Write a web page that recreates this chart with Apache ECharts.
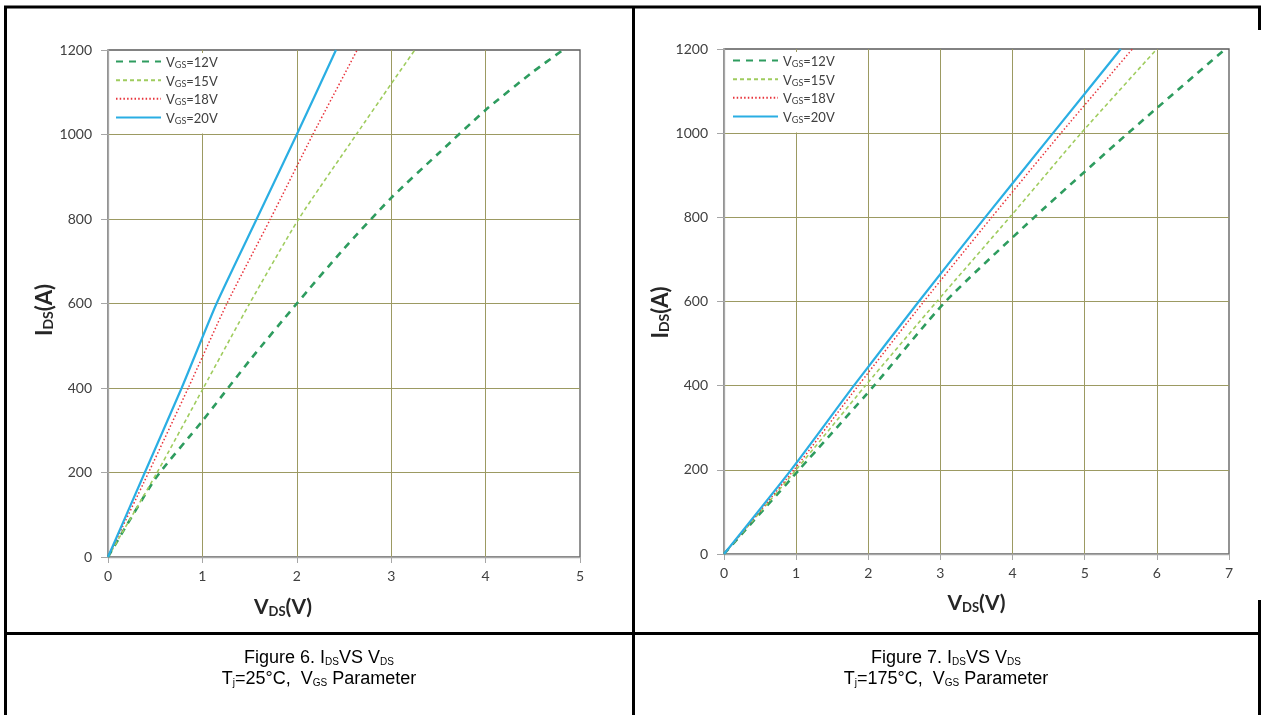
<!DOCTYPE html>
<html>
<head>
<meta charset="utf-8">
<script src="https://cdn.jsdelivr.net/npm/echarts@6/dist/echarts.min.js"></script>
<style>
html,body{margin:0;padding:0;background:#fff;}
#c{width:1263px;height:715px;}
</style>
</head>
<body>
<div id="c"></div>
<script>
// ---- Data (V_DS in volts, I_DS in amperes) ----
// Figure 6: Tj = 25 °C
const t25_vgs12 = [[0,0],[0.5,185],[1.0,322],[1.5,465],[2.0,600],[2.5,730],[3.0,850],[3.5,955],[4.0,1058],[4.5,1148],[4.82,1200]];
const t25_vgs15 = [[0,0],[0.52,200],[1.01,400],[1.5,600],[2.02,800],[2.63,1000],[3.0,1120],[3.25,1200]];
const t25_vgs18 = [[0,0],[0.43,200],[0.85,400],[1.26,600],[1.72,800],[2.17,1000],[2.64,1200]];
const t25_vgs20 = [[0,0],[0.39,200],[0.78,400],[1.15,600],[1.575,800],[2.0,1000],[2.415,1200]];
// Figure 7: Tj = 175 °C
const t175_vgs12 = [[0,0],[1.04,200],[2.08,400],[3.07,600],[4.3,800],[5.6,1000],[6.95,1200]];
const t175_vgs15 = [[0,0],[1.0,200],[1.96,400],[2.95,600],[3.96,800],[4.95,1000],[6.0,1200]];
const t175_vgs18 = [[0,0],[0.97,200],[1.86,400],[2.77,600],[3.71,800],[4.67,1000],[5.66,1200]];
const t175_vgs20 = [[0,0],[0.93,200],[1.8,400],[2.7,600],[3.62,800],[4.56,1000],[5.5,1200]];

const seriesNames = ['VGS=12V','VGS=15V','VGS=18V','VGS=20V'];
const xMax25 = 5, xMax175 = 7, yMax = 1200, yStep = 200;

const captionLeft1 = '{n|Figure 6. I}{s|DS}{n|VS V}{s|DS}';
const captionLeft2 = '{n|T}{s|j}{n|=25°C,  V}{s|GS}{n| Parameter}';
const captionRight1 = '{n|Figure 7. I}{s|DS}{n|VS V}{s|DS}';
const captionRight2 = '{n|T}{s|j}{n|=175°C,  V}{s|GS}{n| Parameter}';

// ---- Styles ----
const styles = [
  {color:'#2e9c5f', width:2.6, type:[7,6]},
  {color:'#9fcc5e', width:1.6, type:[4,3]},
  {color:'#e8333b', width:1.5, type:[1.5,2.2]},
  {color:'#2aaee3', width:2.2, type:'solid'}
];
const labelFont = 'Lato';
const gridColor = '#9c9a62';
const axisGrey = '#a6a6a6';

function makeXAxis(idx, max){
  return {
    gridIndex: idx, type:'value', min:0, max:max, interval:1, z:2,
    axisLine:{show:true, lineStyle:{color:axisGrey, width:1.3}},
    axisTick:{show:true, length:6, lineStyle:{color:axisGrey}},
    axisLabel:{color:'#404040', fontSize:14, fontFamily:labelFont, margin:12, formatter:(v)=>String(v)},
    splitLine:{show:true, showMinLine:false, showMaxLine:false, lineStyle:{color:gridColor, width:1}},
    name:'{b|V}{s|DS}{b|(V)}', nameLocation:'middle',
    nameGap: idx===0 ? 37 : 36,
    nameTextStyle:{ padding: idx===0 ? [0,122,0,0] : [0,0,0,0],
      rich:{ b:{fontSize:21, fontWeight:'bold', fontFamily:labelFont, color:'#262626', lineHeight:24, verticalAlign:'bottom'},
             s:{fontSize:13, fontWeight:'bold', fontFamily:labelFont, color:'#262626', lineHeight:15, verticalAlign:'bottom'} } }
  };
}
function makeYAxis(idx){
  return {
    gridIndex: idx, type:'value', min:0, max:yMax, interval:yStep, z:2,
    axisLine:{show:true, lineStyle:{color:axisGrey, width:1.3}},
    axisTick:{show:true, length:7, lineStyle:{color:axisGrey}},
    axisLabel:{color:'#404040', fontSize:14, fontFamily:labelFont, margin:16, formatter:(v)=>String(v)},
    splitLine:{show:true, showMinLine:false, showMaxLine:false, lineStyle:{color:gridColor, width:1}},
    name:'{b|I}{s|DS}{b|(A)}', nameLocation:'middle', nameRotate:90,
    nameGap: 41,
    nameTextStyle:{ padding: idx===0 ? [0,13,0,0] : [0,22,0,0],
      rich:{ b:{fontSize:22, fontWeight:'bold', fontFamily:labelFont, color:'#262626', lineHeight:26, verticalAlign:'bottom'},
             s:{fontSize:14, fontWeight:'bold', fontFamily:labelFont, color:'#262626', lineHeight:17, verticalAlign:'bottom'} } }
  };
}
function makeSeries(name, data, gi, st){
  return {
    name:name, type:'line', xAxisIndex:gi, yAxisIndex:gi, data:data,
    symbol:'none', smooth:0.2, z:3, clip:true,
    lineStyle:{color:st.color, width:st.width, type:st.type},
    itemStyle:{color:st.color}
  };
}
function makeLegend(left, top){
  return {
    orient:'vertical', left:left, top:top, z:6,
    itemWidth:45, itemHeight:14, itemGap:5,
    backgroundColor:'#ffffff', padding:[3,6,8,3],
    itemStyle:{opacity:0},
    data: seriesNames,
    formatter: function(n){ return '{v|V}{s|GS}{v|' + n.slice(3) + '}'; },
    textStyle:{ rich:{
      v:{fontSize:13, fontFamily:labelFont, color:'#404040', lineHeight:16, verticalAlign:'bottom'},
      s:{fontSize:9, fontFamily:labelFont, color:'#404040', lineHeight:11, verticalAlign:'bottom'}
    }}
  };
}
function hline(x1,y1,x2,y2){
  return {type:'line', silent:true, z:10, shape:{x1:x1,y1:y1,x2:x2,y2:y2}, style:{stroke:'#000', lineWidth:3}};
}
const captionRich = {
  n:{fontSize:18, fontFamily:'Liberation Sans', color:'#000', lineHeight:20, verticalAlign:'bottom'},
  s:{fontSize:10, fontFamily:'Liberation Sans', color:'#000', lineHeight:12, verticalAlign:'bottom'}
};
function caption(text, x, y){
  return {type:'text', silent:true, z:10, x:x, y:y,
    style:{text:text, rich:captionRich, align:'center', verticalAlign:'middle'}};
}

const chart = echarts.init(document.getElementById('c'), null, {renderer:'canvas'});
const data25 = [t25_vgs12, t25_vgs15, t25_vgs18, t25_vgs20];
const data175 = [t175_vgs12, t175_vgs15, t175_vgs18, t175_vgs20];
const series = [];
seriesNames.forEach((n,i)=>{ series.push(makeSeries(n, data25[i], 0, styles[i])); });
seriesNames.forEach((n,i)=>{ series.push(makeSeries(n, data175[i], 1, styles[i])); });

chart.setOption({
  animation:false,
  backgroundColor:'#ffffff',
  grid:[
    {left:108, top:50, width:472, height:507, show:true, borderColor:'#595959', borderWidth:1.3, backgroundColor:'transparent', z:1},
    {left:724, top:49, width:505, height:505, show:true, borderColor:'#595959', borderWidth:1.3, backgroundColor:'transparent', z:1}
  ],
  xAxis:[makeXAxis(0, xMax25), makeXAxis(1, xMax175)],
  yAxis:[makeYAxis(0), makeYAxis(1)],
  legend:[makeLegend(112, 53), makeLegend(729, 52)],
  series: series,
  graphic:[
    hline(4,7,1261,7),
    hline(5.5,6,5.5,715),
    hline(633.5,6,633.5,715),
    hline(4,633.5,1261,633.5),
    hline(1259.5,6,1259.5,30),
    hline(1259.5,600,1259.5,715),
    caption(captionLeft1, 319, 657),
    caption(captionLeft2, 319, 678),
    caption(captionRight1, 946, 657),
    caption(captionRight2, 946, 678)
  ]
});
</script>
</body>
</html>
